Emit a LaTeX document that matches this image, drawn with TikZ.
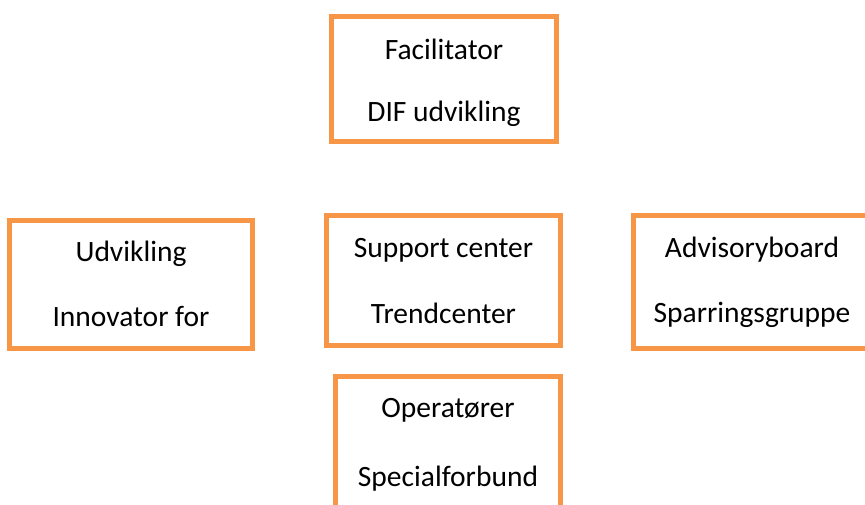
\documentclass[tikz,border=0pt]{standalone}
\usepackage{fontspec}
\setmainfont{Carlito}
\usepackage{tikz}
\usetikzlibrary{positioning}

\definecolor{kasseorange}{HTML}{F79646}

\begin{document}
\begin{tikzpicture}[%
        x=1pt, y=-1pt,
        orgbox/.style={draw=kasseorange, line width=5pt, rectangle,
            inner sep=0pt, outer sep=0pt, fill=white},
        boxtext/.style={anchor=base, inner sep=0pt,
            font=\fontsize{29.5}{35}\selectfont}
        ]
            \useasboundingbox (0,0) rectangle (865,504);

            % Kasser
            \node[orgbox, minimum width=225pt, minimum height=125pt] (fac) at (444,79) {};
            \node[orgbox, minimum width=243pt, minimum height=128pt] (udv) at (131,284.5) {};
            \node[orgbox, minimum width=234pt, minimum height=130pt] (sup) at (443.5,280.5) {};
            \node[orgbox, minimum width=237pt, minimum height=133pt] (adv) at (752,282) {};
            \node[orgbox, minimum width=225pt, minimum height=135pt] (ope) at (448,444) {};

            % Tekst
            \node[boxtext] (fac1) at ([yshift=-43pt]fac.north) {Facilitator};
            \node[boxtext] (fac2) at ([yshift=-105pt]fac.north) {DIF udvikling};

            \node[boxtext] (udv1) at ([yshift=-41pt]udv.north) {Udvikling};
            \node[boxtext] (udv2) at ([yshift=-106pt]udv.north) {Innovator for};

            \node[boxtext] (sup1) at ([yshift=-42pt]sup.north) {Support center};
            \node[boxtext] (sup2) at ([yshift=-108pt]sup.north) {Trendcenter};

            \node[boxtext] (adv1) at ([yshift=-42pt]adv.north) {Advisoryboard};
            \node[boxtext] (adv2) at ([yshift=-107pt]adv.north) {Sparringsgruppe};

            \node[boxtext] (ope1) at ([yshift=-41pt]ope.north) {Operatører};
            \node[boxtext] (ope2) at ([yshift=-110pt]ope.north) {Specialforbund};

        \end{tikzpicture}
\end{document}
